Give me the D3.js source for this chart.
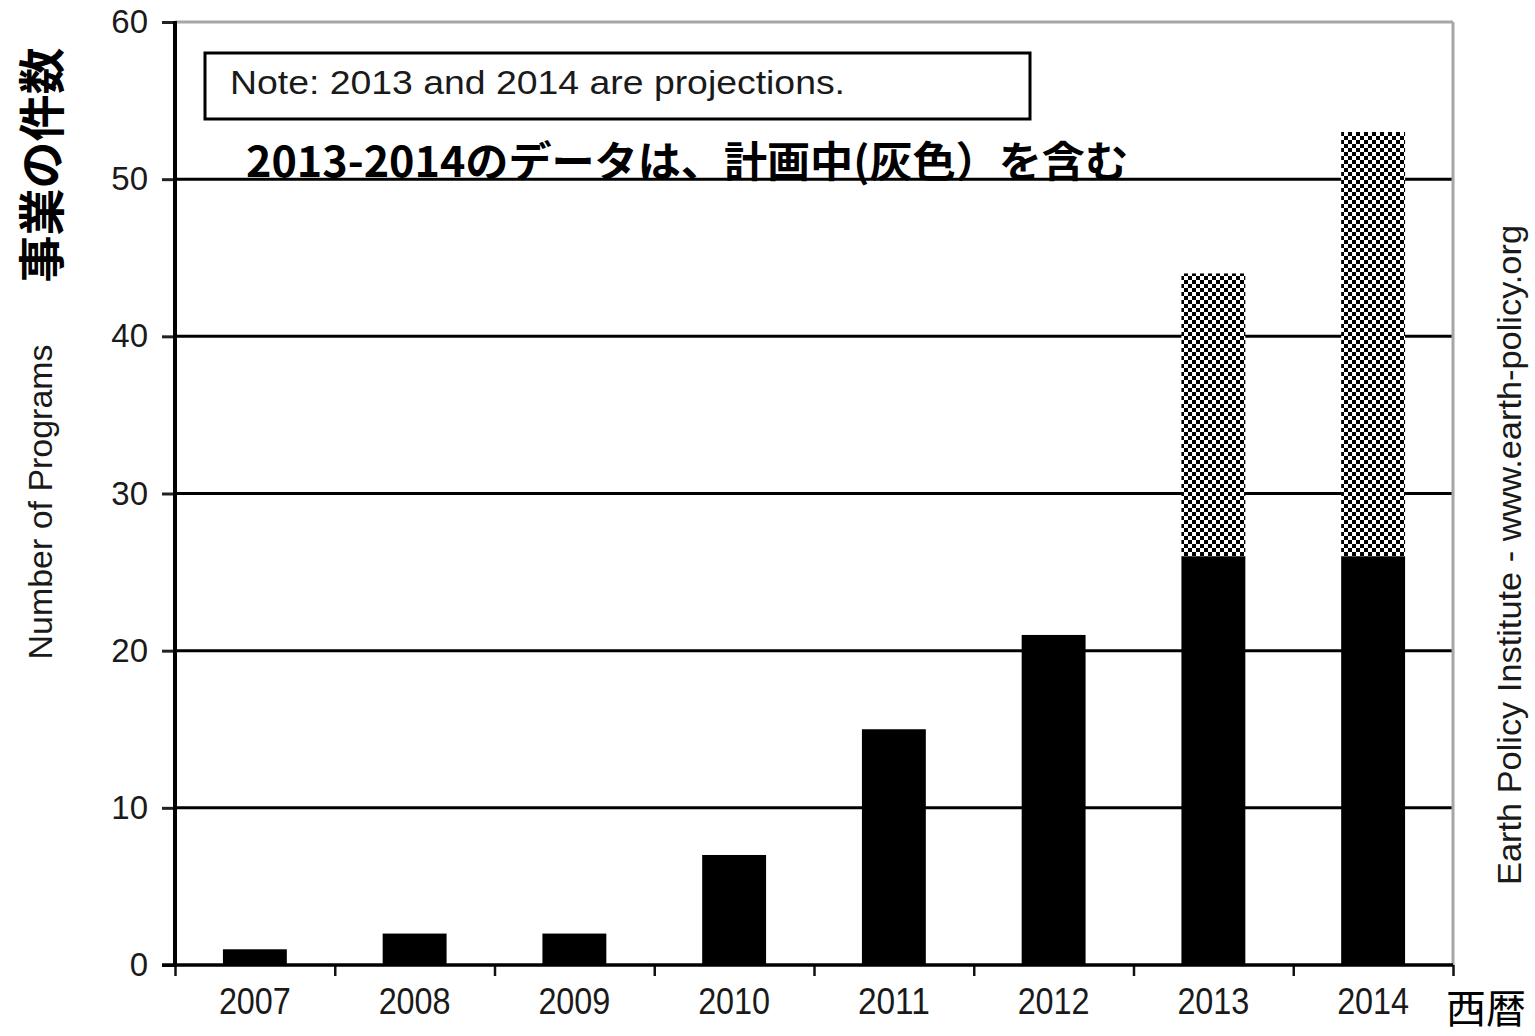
<!DOCTYPE html>
<html>
<head>
<meta charset="utf-8">
<script src="https://cdn.jsdelivr.net/npm/d3@7"></script>
<style>
  html, body { margin: 0; padding: 0; background: #fff; }
  svg { display: block; }
</style>
</head>
<body>
<svg id="chart" width="1535" height="1036"></svg>
<script>
// ---- data ----
const years = ["2007", "2008", "2009", "2010", "2011", "2012", "2013", "2014"];
const actualPrograms = [1, 2, 2, 7, 15, 21, 26, 26];
const plannedPrograms = [0, 0, 0, 0, 0, 0, 18, 27];
const yTickValues = [0, 10, 20, 30, 40, 50, 60];
const yTitleJa = "事業の件数";
const yTitleEn = "Number of Programs";
const xTitleJa = "西暦";
const noteText = "Note: 2013 and 2014 are projections.";
const noteJa = "2013-2014のデータは、計画中(灰色）を含む";
const sourceText = "Earth Policy Institute - www.earth-policy.org";

(function () {
const svg = d3.select("#chart");
const pLeft = 175, pRight = 1453, pTop = 22, pBottom = 965;

const x = d3.scaleBand().domain(years).range([pLeft, pRight]).paddingInner(0.6).paddingOuter(0.3);
const y = d3.scaleLinear().domain([0, 60]).range([pBottom, pTop]);
const xEdge = d3.scaleLinear().domain([0, years.length]).range([pLeft, pRight]);

// pattern
const defs = svg.append("defs");
const pat = defs.append("pattern").attr("id", "checker").attr("patternUnits", "userSpaceOnUse")
  .attr("width", 8).attr("height", 8);
pat.append("rect").attr("width", 8).attr("height", 8).attr("fill", "#fff");
pat.append("rect").attr("x", 0).attr("y", 0).attr("width", 4).attr("height", 4).attr("fill", "#000");
pat.append("rect").attr("x", 4).attr("y", 4).attr("width", 4).attr("height", 4).attr("fill", "#000");

// gridlines
svg.append("g").selectAll("line").data(yTickValues.filter(v => v > 0 && v < 60)).join("line")
  .attr("x1", pLeft).attr("x2", pRight)
  .attr("y1", d => y(d)).attr("y2", d => y(d))
  .attr("stroke", "#000").attr("stroke-width", 3);

// plot border (top / right) gray
svg.append("line").attr("x1", pLeft).attr("x2", pRight).attr("y1", y(60)).attr("y2", y(60))
  .attr("stroke", "#a6a6a6").attr("stroke-width", 3);
svg.append("line").attr("x1", pRight).attr("x2", pRight).attr("y1", y(60)).attr("y2", y(0))
  .attr("stroke", "#a6a6a6").attr("stroke-width", 3);

// bars
const stacked = years.map((yr, i) => ({ year: yr, a: actualPrograms[i], p: plannedPrograms[i] }));
svg.append("g").selectAll("rect.planned").data(stacked.filter(d => d.p > 0)).join("rect")
  .attr("class", "planned")
  .attr("x", d => x(d.year)).attr("width", x.bandwidth())
  .attr("y", d => y(d.a + d.p)).attr("height", d => y(d.a) - y(d.a + d.p))
  .attr("fill", "url(#checker)");
svg.append("g").selectAll("rect.actual").data(stacked).join("rect")
  .attr("class", "actual")
  .attr("x", d => x(d.year)).attr("width", x.bandwidth())
  .attr("y", d => y(d.a)).attr("height", d => y(0) - y(d.a))
  .attr("fill", "#000");

// y axis
const yAxis = svg.append("g").attr("transform", `translate(${pLeft},0)`)
  .call(d3.axisLeft(y).tickValues(yTickValues).tickSize(13).tickPadding(14));
yAxis.select(".domain").remove();
yAxis.selectAll(".tick line").attr("stroke", "#222").attr("stroke-width", 3);
yAxis.selectAll(".tick text").attr("font-family", "'Liberation Sans', Arial, sans-serif")
  .attr("font-size", 33).attr("fill", "#1a1a1a");
svg.append("line").attr("x1", pLeft).attr("x2", pLeft).attr("y1", y(60) - 1).attr("y2", y(0) + 1.5)
  .attr("stroke", "#000").attr("stroke-width", 4);

// x axis
const xAxis = svg.append("g").attr("transform", `translate(0,${pBottom})`)
  .call(d3.axisBottom(xEdge).tickValues(d3.range(0, years.length + 1)).tickSize(11).tickFormat(""));
xAxis.select(".domain").remove();
xAxis.selectAll(".tick line").attr("stroke", "#111").attr("stroke-width", 2.5);
svg.append("line").attr("x1", pLeft - 13).attr("x2", pRight).attr("y1", y(0)).attr("y2", y(0))
  .attr("stroke", "#000").attr("stroke-width", 3.5);
svg.append("g").selectAll("text").data(years).join("text")
  .attr("x", d => x(d) + x.bandwidth() / 2).attr("y", 1014)
  .attr("text-anchor", "middle")
  .attr("font-family", "'Liberation Sans', Arial, sans-serif")
  .attr("font-size", 36).attr("fill", "#1a1a1a")
  .attr("textLength", 72).attr("lengthAdjust", "spacingAndGlyphs")
  .text(d => d);

// note box
svg.append("rect").attr("x", 205).attr("y", 53).attr("width", 825).attr("height", 66)
  .attr("fill", "#fff").attr("stroke", "#000").attr("stroke-width", 3);
svg.append("text").attr("x", 230).attr("y", 94)
  .attr("font-family", "'Liberation Sans', Arial, sans-serif")
  .attr("font-size", 33).attr("fill", "#1a1a1a")
  .attr("textLength", 615).attr("lengthAdjust", "spacingAndGlyphs")
  .text(noteText);

// Japanese note
svg.append("text").attr("x", 246).attr("y", 177)
  .attr("font-family", "'Noto Sans CJK JP', sans-serif").attr("font-weight", "bold")
  .attr("font-size", 42).attr("fill", "#000")
  .attr("textLength", 882).attr("lengthAdjust", "spacingAndGlyphs")
  .text(noteJa);

// y titles
svg.append("text").attr("transform", "translate(38,165) rotate(-90)")
  .attr("text-anchor", "middle").attr("dominant-baseline", "central")
  .attr("font-family", "'Noto Sans CJK JP', sans-serif").attr("font-weight", "bold")
  .attr("font-size", 47).attr("fill", "#000")
  .text(yTitleJa);
svg.append("text").attr("transform", "translate(52,502) rotate(-90)")
  .attr("text-anchor", "middle")
  .attr("font-family", "'Liberation Sans', Arial, sans-serif")
  .attr("font-size", 33).attr("fill", "#1a1a1a")
  .attr("textLength", 315).attr("lengthAdjust", "spacingAndGlyphs")
  .text(yTitleEn);

// source
svg.append("text").attr("transform", "translate(1521,555) rotate(-90)")
  .attr("text-anchor", "middle")
  .attr("font-family", "'Liberation Sans', Arial, sans-serif")
  .attr("font-size", 33).attr("fill", "#1a1a1a")
  .attr("textLength", 660).attr("lengthAdjust", "spacingAndGlyphs")
  .text(sourceText);

// x title
svg.append("text").attr("x", 1486).attr("y", 1023)
  .attr("text-anchor", "middle")
  .attr("font-family", "'Noto Sans CJK JP', sans-serif")
  .attr("font-size", 40).attr("fill", "#000")
  .text(xTitleJa);
})();
</script>
</body>
</html>
